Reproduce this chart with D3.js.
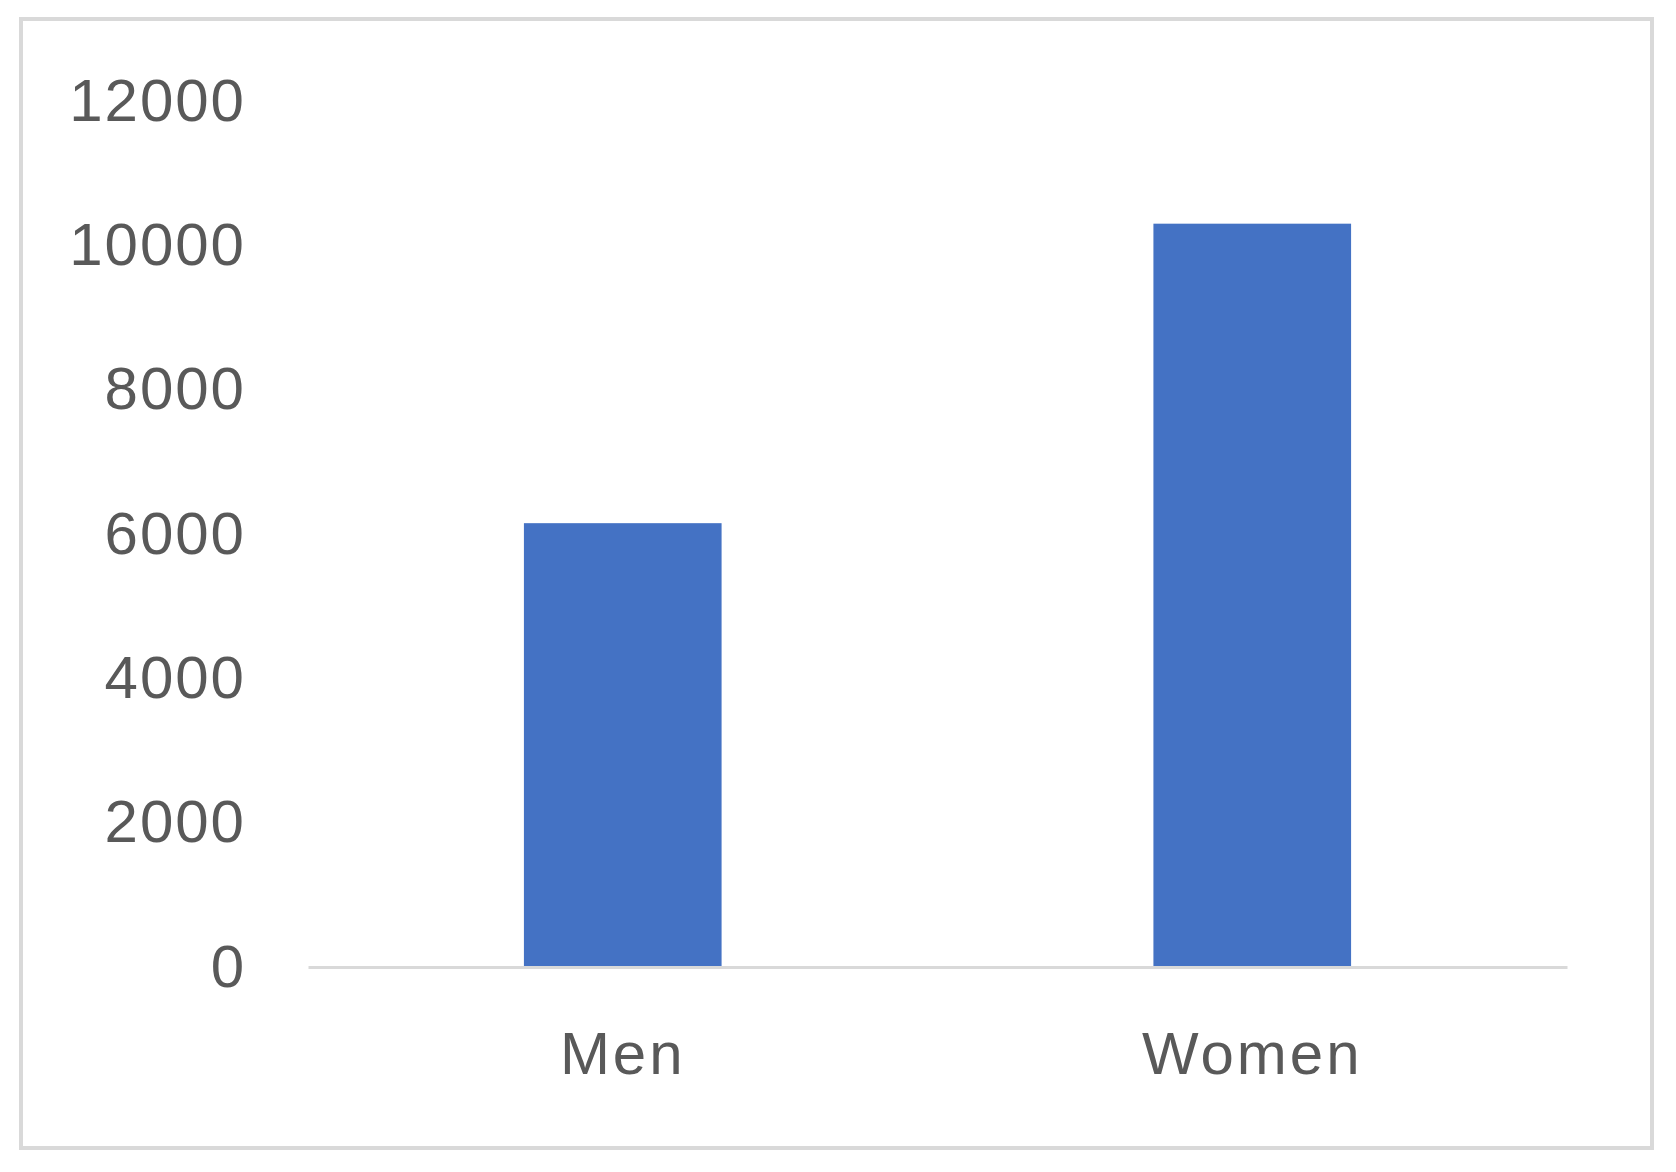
<!DOCTYPE html>
<html>
<head>
<meta charset="utf-8">
<script src="https://cdn.jsdelivr.net/npm/d3@7"></script>
<style>
  body { margin: 0; background: #fff; }
</style>
</head>
<body>
<svg id="chart"></svg>
<script>
// chart values
const categories = ["Men", "Women"];
const values = [6150, 10300];
const yTicks = [0, 2000, 4000, 6000, 8000, 10000, 12000];

const W = 1676, H = 1172;
var margin = { top: 101, right: 109, bottom: 205, left: 308 },
  width = W - margin.left - margin.right,
  height = H - margin.top - margin.bottom;

const svg = d3.select("#chart")
  .attr("width", W)
  .attr("height", H);

// outer frame
svg.append("rect")
  .attr("x", 21)
  .attr("y", 19)
  .attr("width", 1631)
  .attr("height", 1129)
  .attr("fill", "#fff")
  .attr("stroke", "#d9d9d9")
  .attr("stroke-width", 4);

const g = svg.append("g")
  .attr("transform", `translate(${margin.left}, ${margin.top})`);

// X scale
var x = d3.scaleBand()
  .domain(categories)
  .range([0, width])
  .paddingInner(0.686)
  .paddingOuter(0.343);

// Y scale
var y = d3.scaleLinear()
  .domain([0, 12000])
  .range([height, 0]);

// y labels (no axis line, no ticks)
const yAxis = g.append("g")
  .call(d3.axisLeft(y).tickValues(yTicks).tickSize(0).tickPadding(62).tickFormat(d3.format("d")));
yAxis.select(".domain").remove();
yAxis.selectAll("text")
  .attr("font-family", "Liberation Sans, Arial, sans-serif")
  .attr("font-size", 60)
  .attr("letter-spacing", 2)
  .attr("fill", "#595959");

// Bars
g.selectAll("mybar")
  .data(categories)
  .enter()
  .append("rect")
  .attr("x", d => x(d))
  .attr("y", (d, i) => y(values[i]))
  .attr("width", x.bandwidth())
  .attr("height", (d, i) => height - y(values[i]))
  .attr("fill", "#4472c4");

// baseline and category labels
const xAxis = g.append("g")
  .attr("transform", "translate(0," + height + ")")
  .call(d3.axisBottom(x).tickSize(0).tickPadding(64));
xAxis.select(".domain")
  .attr("stroke", "#d9d9d9")
  .attr("stroke-width", 3);
xAxis.selectAll("text")
  .attr("font-family", "Liberation Sans, Arial, sans-serif")
  .attr("font-size", 60)
  .attr("letter-spacing", 3)
  .attr("fill", "#595959");
</script>
</body>
</html>
